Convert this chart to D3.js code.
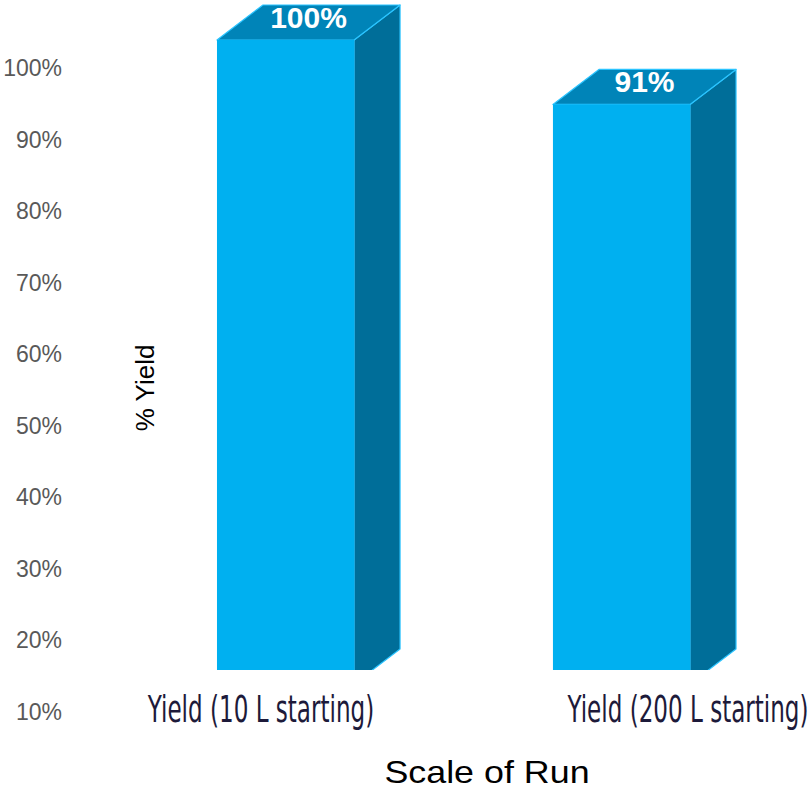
<!DOCTYPE html>
<html>
<head>
<meta charset="utf-8">
<script src="https://cdn.jsdelivr.net/npm/d3@7"></script>
<style>
  body { margin: 0; background: #fff; }
  svg { display: block; }
</style>
</head>
<body>
<div id="chart"></div>
<script>
// chart data
const categories = ['Yield (10 L starting)', 'Yield (200 L starting)'];
const yields = [100, 91];
const tickValues = [10, 20, 30, 40, 50, 60, 70, 80, 90, 100];
const yTitle = '% Yield';
const xTitle = 'Scale of Run';

const width = 810, height = 792;
const depth = { dx: 46, dy: -35 };
const floorY = 670;

const svg = d3.select('#chart')
  .append('svg')
  .attr('width', width)
  .attr('height', height);

svg.append('rect').attr('width', width).attr('height', height).attr('fill', '#fff');

// tick labels sit a little lower than the bar geometry in the original
const yTick = d3.scaleLinear().domain([10, 100]).range([712, 68]);
const yBar = d3.scaleLinear().domain([10, 100]).range([684, 40]);

const x = d3.scaleBand()
  .domain(categories)
  .range([49, 858])
  .paddingInner(0.592)
  .paddingOuter(0.5);

const xLabel = d3.scalePoint()
  .domain(categories)
  .range([261, 688]);

// y tick labels
svg.append('g')
  .selectAll('text')
  .data(tickValues)
  .enter()
  .append('text')
  .attr('x', 62)
  .attr('y', d => yTick(d))
  .attr('dy', '0.35em')
  .attr('text-anchor', 'end')
  .attr('font-family', 'Liberation Sans, Arial, sans-serif')
  .attr('font-size', '23px')
  .attr('fill', '#595959')
  .text(d => d + '%');

svg.append('text')
  .attr('transform', 'translate(154,388) rotate(-90)')
  .attr('text-anchor', 'middle')
  .attr('font-family', 'Liberation Sans, Arial, sans-serif')
  .attr('font-size', '26px')
  .attr('fill', '#000')
  .text(yTitle);

// bars (3d boxes clipped at the floor)
svg.append('clipPath')
  .attr('id', 'floor')
  .append('rect')
  .attr('x', 0).attr('y', 0)
  .attr('width', width).attr('height', floorY);

const bars = svg.append('g')
  .attr('clip-path', 'url(#floor)')
  .selectAll('g')
  .data(categories.map((c, i) => ({ cat: c, value: yields[i] })))
  .enter()
  .append('g');

const bw = x.bandwidth();

bars.append('polygon')
  .attr('points', d => {
    const x0 = x(d.cat) + bw, yt = yBar(d.value), yb = yBar(10);
    return [[x0, yt], [x0 + depth.dx, yt + depth.dy], [x0 + depth.dx, yb + depth.dy], [x0, yb]].join(' ');
  })
  .attr('fill', '#006E99')
  .attr('stroke', '#2BC4FF')
  .attr('stroke-width', 1.2)
  .attr('stroke-linejoin', 'round');

bars.append('polygon')
  .attr('points', d => {
    const x0 = x(d.cat), yt = yBar(d.value);
    return [[x0, yt], [x0 + depth.dx, yt + depth.dy], [x0 + bw + depth.dx, yt + depth.dy], [x0 + bw, yt]].join(' ');
  })
  .attr('fill', '#0084B8')
  .attr('stroke', '#2BC4FF')
  .attr('stroke-width', 1.2)
  .attr('stroke-linejoin', 'round');

bars.append('rect')
  .attr('x', d => x(d.cat))
  .attr('y', d => yBar(d.value))
  .attr('width', bw)
  .attr('height', d => yBar(10) - yBar(d.value))
  .attr('fill', '#00B0F0');

bars.append('text')
  .attr('x', d => x(d.cat) + bw / 2 + depth.dx / 2)
  .attr('y', d => yBar(d.value) - 12)
  .attr('text-anchor', 'middle')
  .attr('font-family', 'Liberation Sans, Arial, sans-serif')
  .attr('font-weight', 'bold')
  .attr('font-size', '30px')
  .attr('fill', '#fff')
  .text(d => d.value + '%');

// category labels: condensed look, squeeze so the longest one is ~241px wide
const catText = svg.append('g')
  .selectAll('text')
  .data(categories)
  .enter()
  .append('text')
  .attr('text-anchor', 'middle')
  .attr('font-family', 'Liberation Sans Narrow, DejaVu Sans Condensed, sans-serif')
  .attr('font-size', '38px')
  .attr('fill', '#1d1a3a')
  .text(d => d);

const longest = d3.max(catText.nodes(), n => n.getComputedTextLength());
const sx = 241 / longest;
catText.attr('transform', d => `translate(${xLabel(d)},722) scale(${sx},1)`);

svg.append('text')
  .attr('transform', 'translate(487,783) scale(1.12,1)')
  .attr('text-anchor', 'middle')
  .attr('font-family', 'Liberation Sans, Arial, sans-serif')
  .attr('font-size', '32px')
  .attr('fill', '#000')
  .text(xTitle);
</script>
</body>
</html>
